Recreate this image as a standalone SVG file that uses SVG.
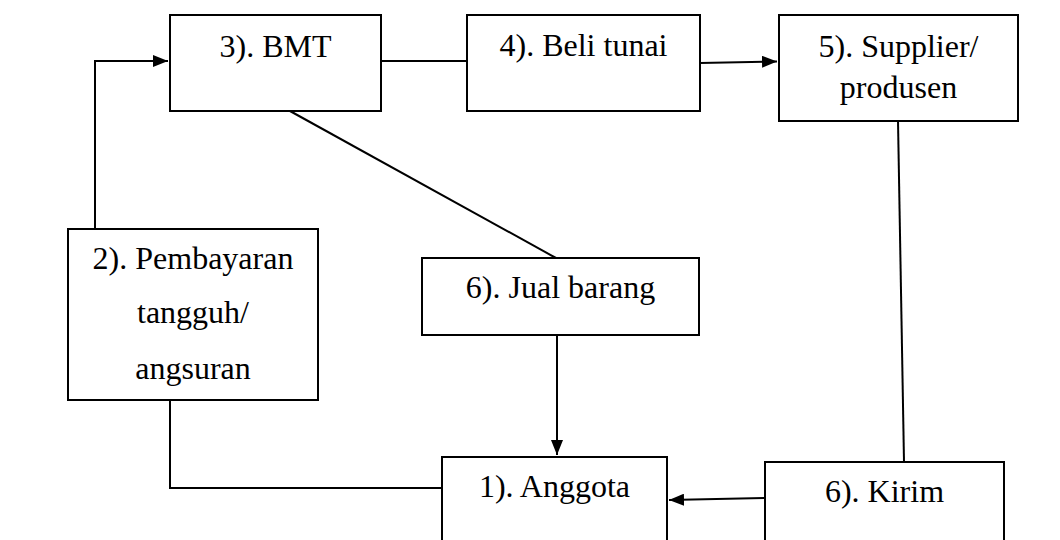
<svg xmlns="http://www.w3.org/2000/svg" width="1060" height="540" viewBox="0 0 1060 540">
<style>
.box{fill:#fff;stroke:#000;stroke-width:2}
.lbl{font-family:"Liberation Serif","Times New Roman",serif;font-size:32px;fill:#000;text-anchor:middle}
.con{fill:none;stroke:#000;stroke-width:2}
</style>
<defs>
<marker id="ah" markerUnits="userSpaceOnUse" markerWidth="16" markerHeight="12" refX="15" refY="6" orient="auto">
<path d="M0,0 L15,6 L0,12 Z" fill="#000"/>
</marker>
</defs>
<rect width="1060" height="540" fill="#fff"/>
<g id="connectors">
<path class="con" d="M95,229 V61 H168" marker-end="url(#ah)"/>
<line class="con" x1="381" y1="61" x2="467" y2="61"/>
<line class="con" x1="700" y1="63" x2="777" y2="61.5" marker-end="url(#ah)"/>
<line class="con" x1="290" y1="111" x2="556" y2="258"/>
<line class="con" x1="557" y1="335" x2="557" y2="455" marker-end="url(#ah)"/>
<line class="con" x1="898" y1="121" x2="904" y2="462"/>
<line class="con" x1="765" y1="498" x2="669" y2="500" marker-end="url(#ah)"/>
<path class="con" d="M170,400 V488 H442"/>
</g>
<g id="node3">
<rect class="box" x="170" y="15" width="211" height="96"/>
<text class="lbl" x="275.5" y="57">3). BMT</text>
</g>
<g id="node4">
<rect class="box" x="467" y="15" width="233" height="96"/>
<text class="lbl" x="583.5" y="56">4). Beli tunai</text>
</g>
<g id="node5">
<rect class="box" x="779" y="15" width="239" height="106"/>
<text class="lbl" x="898.5" y="57">5). Supplier/</text>
<text class="lbl" x="898.5" y="98">produsen</text>
</g>
<g id="node2">
<rect class="box" x="68" y="229" width="250" height="171"/>
<text class="lbl" x="193" y="269">2). Pembayaran</text>
<text class="lbl" x="193" y="323">tangguh/</text>
<text class="lbl" x="193" y="379">angsuran</text>
</g>
<g id="node6a">
<rect class="box" x="422" y="258" width="277" height="77"/>
<text class="lbl" x="560.5" y="298">6). Jual barang</text>
</g>
<g id="node1">
<rect class="box" x="442" y="457" width="225" height="100"/>
<text class="lbl" x="554.5" y="497">1). Anggota</text>
</g>
<g id="node6b">
<rect class="box" x="765" y="462" width="239" height="100"/>
<text class="lbl" x="884.5" y="502">6). Kirim</text>
</g>
</svg>
